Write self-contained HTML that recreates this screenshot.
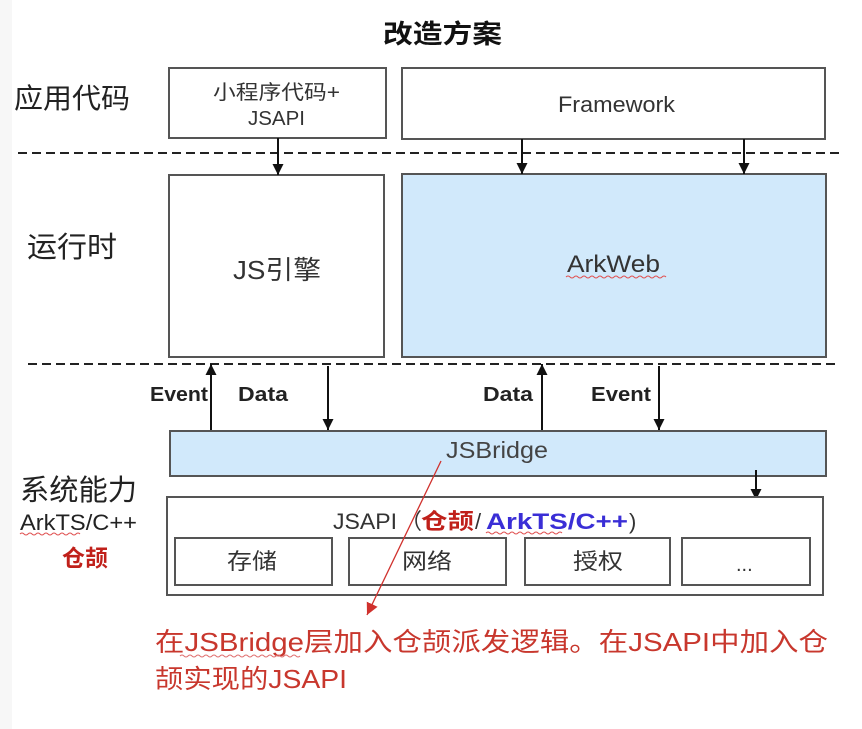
<!DOCTYPE html>
<html><head><meta charset="utf-8"><style>
html,body{margin:0;padding:0;background:#fff;}
svg{display:block;}
text{font-family:"Liberation Sans","Noto Sans CJK SC",sans-serif;}
</style></head><body>
<svg width="862" height="729" viewBox="0 0 862 729" xmlns="http://www.w3.org/2000/svg">
<defs>
<marker id="ah" viewBox="0 0 10 10" refX="10" refY="5" markerWidth="11" markerHeight="11" orient="auto" markerUnits="userSpaceOnUse">
<path d="M0,0 L10,5 L0,10 z" fill="#111"/>
</marker>
<marker id="ahr" viewBox="0 0 10 10" refX="10" refY="5" markerWidth="12" markerHeight="12" orient="auto" markerUnits="userSpaceOnUse">
<path d="M0,0 L10,5 L0,10 z" fill="#d0312d"/>
</marker>
</defs>
<rect x="0" y="0" width="862" height="729" fill="#fff"/>
<rect x="0" y="0" width="12" height="729" fill="#f7f7f7"/>

<!-- title -->
<text x="383" y="43" font-size="26" font-weight="bold" fill="#111" textLength="119" lengthAdjust="spacingAndGlyphs">改造方案</text>

<!-- left labels -->
<text x="14" y="108" font-size="28" fill="#222" textLength="116" lengthAdjust="spacingAndGlyphs">应用代码</text>
<text x="27" y="257" font-size="29" fill="#222" textLength="90" lengthAdjust="spacingAndGlyphs">运行时</text>
<text x="20" y="500" font-size="29" fill="#222" textLength="117" lengthAdjust="spacingAndGlyphs">系统能力</text>
<text x="20" y="530" font-size="22" fill="#222" textLength="117" lengthAdjust="spacingAndGlyphs">ArkTS/C++</text>
<path d="M20,534 q2,-2 4,0 t4,0 t4,0 t4,0 t4,0 t4,0 t4,0 t4,0 t4,0 t4,0 t4,0 t4,0 t4,0 t4,0 t4,0" fill="none" stroke="#e05050" stroke-width="1"/>
<text x="62" y="566" font-size="23" font-weight="bold" fill="#c0201a" textLength="46" lengthAdjust="spacingAndGlyphs">仓颉</text>

<!-- top boxes -->
<rect x="169" y="68" width="217" height="70" fill="#fff" stroke="#555" stroke-width="2"/>
<text x="213" y="99" font-size="20" fill="#333" textLength="127" lengthAdjust="spacingAndGlyphs">小程序代码+</text>
<text x="248" y="125" font-size="20" fill="#333" textLength="57" lengthAdjust="spacingAndGlyphs">JSAPI</text>
<rect x="402" y="68" width="423" height="71" fill="#fff" stroke="#555" stroke-width="2"/>
<text x="558" y="112" font-size="22" fill="#333" textLength="117" lengthAdjust="spacingAndGlyphs">Framework</text>

<!-- dashed lines -->
<line x1="18" y1="153" x2="842" y2="153" stroke="#222" stroke-width="2" stroke-dasharray="9 5"/>
<line x1="28" y1="364" x2="836" y2="364" stroke="#222" stroke-width="2" stroke-dasharray="9 5"/>

<!-- runtime boxes -->
<rect x="169" y="175" width="215" height="182" fill="#fff" stroke="#555" stroke-width="2"/>
<text x="233" y="279" font-size="26" fill="#333" textLength="88" lengthAdjust="spacingAndGlyphs">JS引擎</text>
<rect x="402" y="174" width="424" height="183" fill="#d1e9fb" stroke="#555" stroke-width="2"/>
<text x="567" y="272" font-size="24" fill="#333" textLength="93" lengthAdjust="spacingAndGlyphs">ArkWeb</text>
<path d="M566,277 q2,-2 4,0 t4,0 t4,0 t4,0 t4,0 t4,0 t4,0 t4,0 t4,0 t4,0 t4,0 t4,0 t4,0 t4,0 t4,0 t4,0 t4,0 t4,0 t4,0 t4,0 t4,0 t4,0 t4,0 t4,0 t4,0" fill="none" stroke="#e05050" stroke-width="1"/>

<!-- top arrows -->
<line x1="278" y1="138" x2="278" y2="175" stroke="#111" stroke-width="2" marker-end="url(#ah)"/>
<line x1="522" y1="139" x2="522" y2="174" stroke="#111" stroke-width="2" marker-end="url(#ah)"/>
<line x1="744" y1="139" x2="744" y2="174" stroke="#111" stroke-width="2" marker-end="url(#ah)"/>

<!-- middle arrows -->
<line x1="211" y1="431" x2="211" y2="364" stroke="#111" stroke-width="2" marker-end="url(#ah)"/>
<line x1="328" y1="366" x2="328" y2="430" stroke="#111" stroke-width="2" marker-end="url(#ah)"/>
<line x1="542" y1="431" x2="542" y2="364" stroke="#111" stroke-width="2" marker-end="url(#ah)"/>
<line x1="659" y1="366" x2="659" y2="430" stroke="#111" stroke-width="2" marker-end="url(#ah)"/>
<text x="150" y="401" font-size="20" font-weight="bold" fill="#222" textLength="58" lengthAdjust="spacingAndGlyphs">Event</text>
<text x="238" y="401" font-size="20" font-weight="bold" fill="#222" textLength="50" lengthAdjust="spacingAndGlyphs">Data</text>
<text x="483" y="401" font-size="20" font-weight="bold" fill="#222" textLength="50" lengthAdjust="spacingAndGlyphs">Data</text>
<text x="591" y="401" font-size="20" font-weight="bold" fill="#222" textLength="60" lengthAdjust="spacingAndGlyphs">Event</text>

<!-- JSBridge -->
<rect x="170" y="431" width="656" height="45" fill="#d1e9fb" stroke="#555" stroke-width="2"/>
<text x="446" y="458" font-size="23" fill="#444" textLength="102" lengthAdjust="spacingAndGlyphs">JSBridge</text>
<line x1="756" y1="470" x2="756" y2="500" stroke="#111" stroke-width="2" marker-end="url(#ah)"/>

<!-- JSAPI box -->
<rect x="167" y="497" width="656" height="98" fill="#fff" stroke="#555" stroke-width="2"/>
<text x="333" y="529" font-size="22" fill="#333" textLength="64" lengthAdjust="spacingAndGlyphs">JSAPI</text>
<text x="400" y="529" font-size="22" fill="#333">（</text>
<text x="421" y="529" font-size="22" font-weight="bold" fill="#c0201a" textLength="53" lengthAdjust="spacingAndGlyphs">仓颉</text>
<text x="475" y="529" font-size="22" fill="#333">/</text>
<text x="486" y="529" font-size="22" font-weight="bold" fill="#3a2ed6" textLength="142" lengthAdjust="spacingAndGlyphs">ArkTS/C++</text>
<text x="629" y="529" font-size="22" fill="#333">)</text>
<path d="M486,533 q2,-2 4,0 t4,0 t4,0 t4,0 t4,0 t4,0 t4,0 t4,0 t4,0 t4,0 t4,0 t4,0 t4,0 t4,0 t4,0 t4,0 t4,0 t4,0 t4,0" fill="none" stroke="#e05050" stroke-width="1"/>

<rect x="175" y="538" width="157" height="47" fill="#fff" stroke="#555" stroke-width="2"/>
<text x="227" y="569" font-size="22" fill="#333" textLength="50" lengthAdjust="spacingAndGlyphs">存储</text>
<rect x="349" y="538" width="157" height="47" fill="#fff" stroke="#555" stroke-width="2"/>
<text x="402" y="569" font-size="22" fill="#333" textLength="50" lengthAdjust="spacingAndGlyphs">网络</text>
<rect x="525" y="538" width="145" height="47" fill="#fff" stroke="#555" stroke-width="2"/>
<text x="573" y="569" font-size="22" fill="#333" textLength="50" lengthAdjust="spacingAndGlyphs">授权</text>
<rect x="682" y="538" width="128" height="47" fill="#fff" stroke="#555" stroke-width="2"/>
<text x="736" y="571" font-size="20" fill="#333">...</text>

<!-- red pointer -->
<line x1="441" y1="461" x2="367" y2="615" stroke="#d0312d" stroke-width="1.3" marker-end="url(#ahr)"/>

<!-- red text -->
<text x="155" y="651" font-size="26" fill="#c8372d" textLength="673" lengthAdjust="spacingAndGlyphs">在JSBridge层加入仓颉派发逻辑。在JSAPI中加入仓</text>
<path d="M180,656 q2,-2 4,0 t4,0 t4,0 t4,0 t4,0 t4,0 t4,0 t4,0 t4,0 t4,0 t4,0 t4,0 t4,0 t4,0 t4,0 t4,0 t4,0 t4,0 t4,0 t4,0 t4,0 t4,0 t4,0 t4,0 t4,0 t4,0 t4,0 t4,0 t4,0 t4,0" fill="none" stroke="#e07070" stroke-width="1"/>
<text x="155" y="688" font-size="26" fill="#c8372d" textLength="192" lengthAdjust="spacingAndGlyphs">颉实现的JSAPI</text>
</svg>
</body></html>
